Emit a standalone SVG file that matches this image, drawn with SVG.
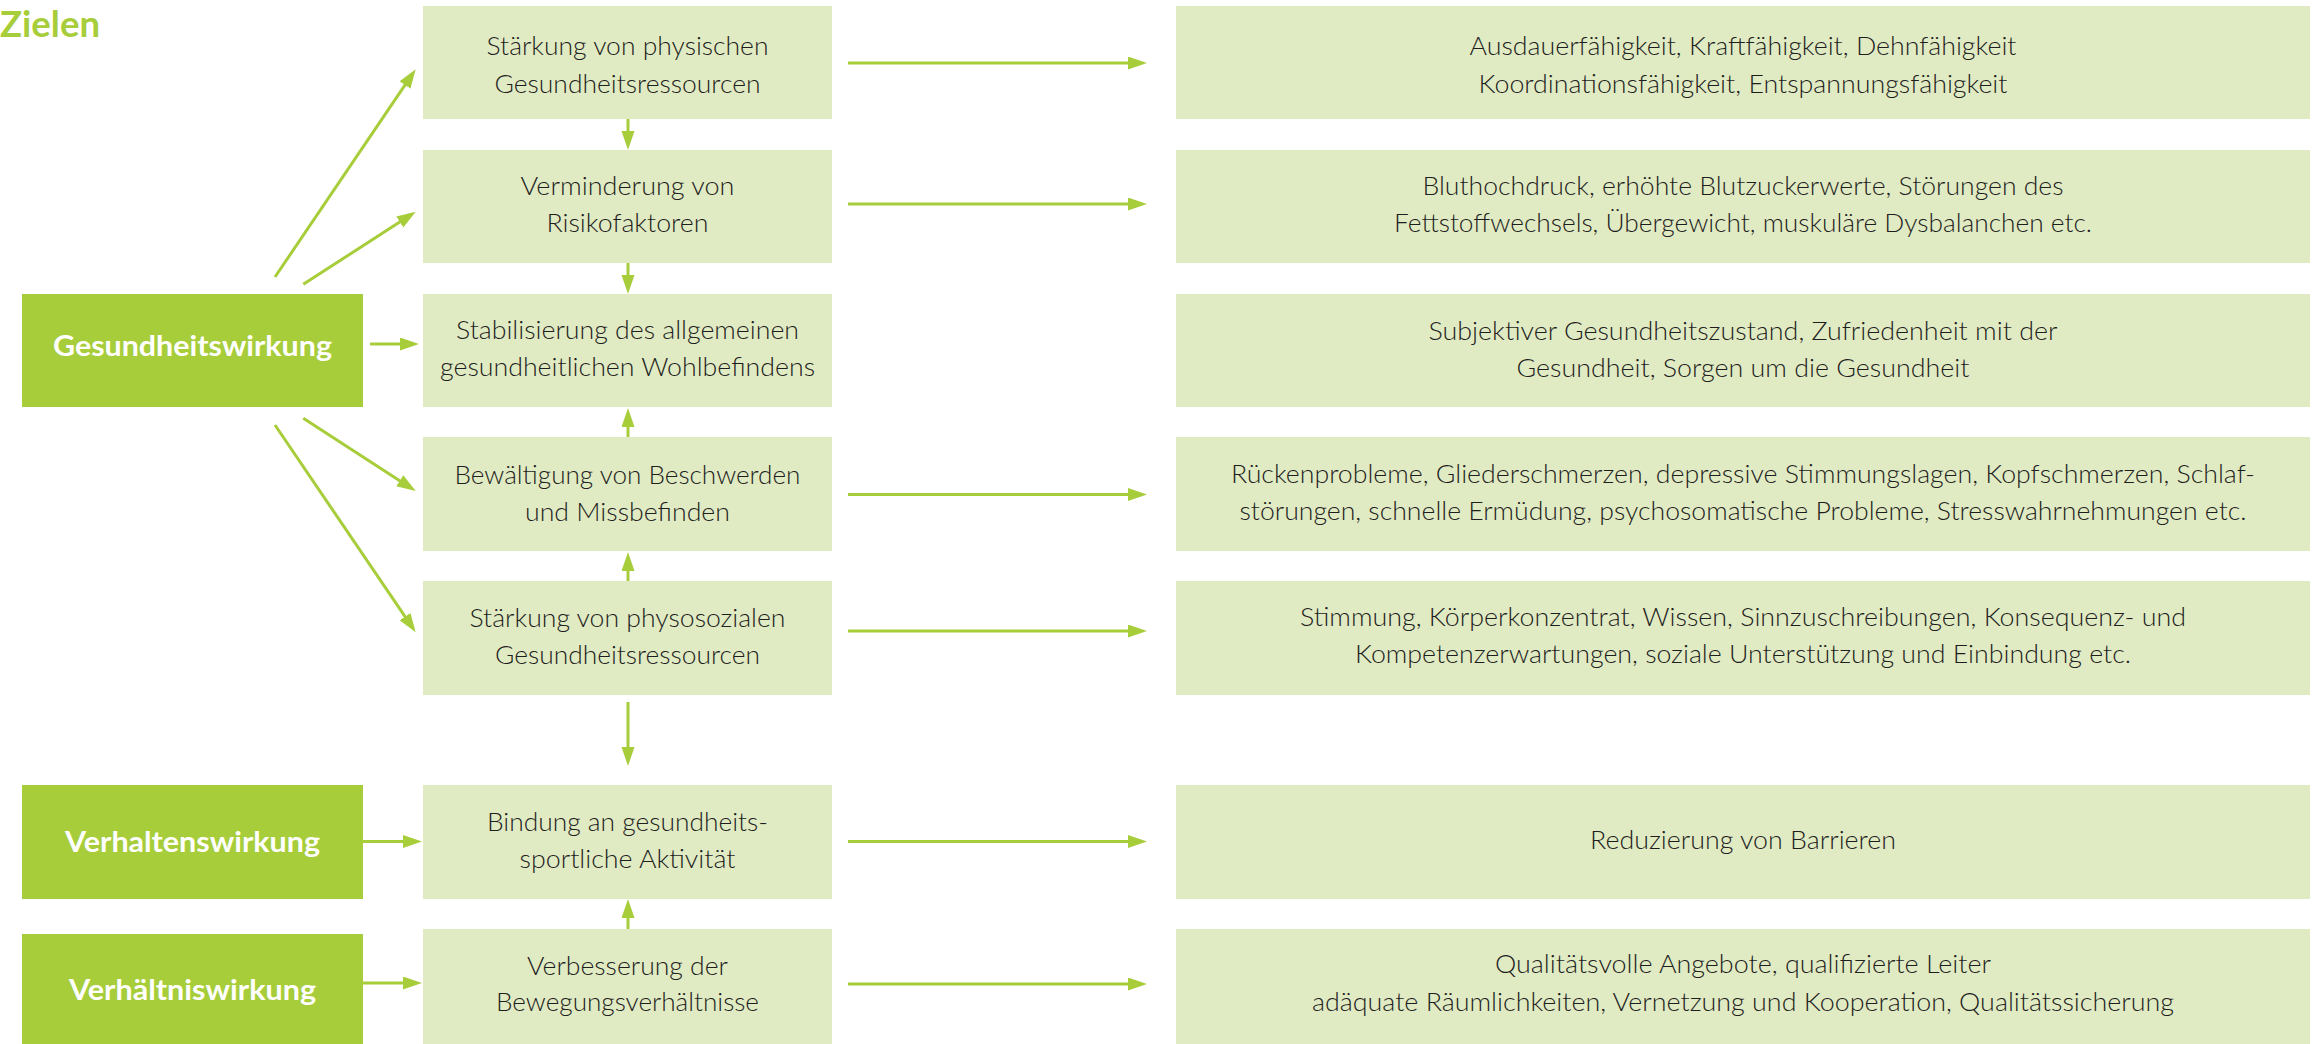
<svg xmlns="http://www.w3.org/2000/svg" width="2323" height="1044" viewBox="0 0 2323 1044">
<style>
.dark{fill:#a7cd3a}
.light{fill:#e1ebc3}
.t{font-family:Lato,"Liberation Sans",sans-serif;font-size:26px;font-weight:300;fill:#1e1e1e;text-anchor:middle}
.w{font-family:Lato,"Liberation Sans",sans-serif;font-size:29px;font-weight:700;fill:#fff;text-anchor:middle}
.title{font-family:Lato,"Liberation Sans",sans-serif;font-size:36px;font-weight:700;fill:#a7cd3a}
.c line{stroke:#a7cd3a;stroke-width:3;fill:none;marker-end:url(#ah)}
</style>
<defs>
<marker id="ah" markerUnits="userSpaceOnUse" markerWidth="20" markerHeight="14" refX="11" refY="6.5" orient="auto">
<path d="M0,0 L19,6.5 L0,13 z" fill="#a7cd3a"/>
</marker>
</defs>
<rect width="2323" height="1044" fill="#fff"/>
<text class="title" x="0" y="37" textLength="100" lengthAdjust="spacingAndGlyphs">Zielen</text>

<g id="connectors" class="c">
<line x1="275" y1="277" x2="411.2" y2="75.9"/>
<line x1="303.3" y1="284.3" x2="409" y2="216"/>
<line x1="303.3" y1="418.3" x2="409" y2="486.7"/>
<line x1="275" y1="425" x2="411.2" y2="625.7"/>
<line x1="370" y1="344" x2="411" y2="344"/>
<line x1="363" y1="841.5" x2="414" y2="841.5"/>
<line x1="363" y1="983" x2="414" y2="983"/>
<line x1="628" y1="119" x2="628" y2="142"/>
<line x1="628" y1="263" x2="628" y2="286"/>
<line x1="628" y1="437" x2="628" y2="416"/>
<line x1="628" y1="581" x2="628" y2="560"/>
<line x1="628" y1="702" x2="628" y2="758"/>
<line x1="628" y1="929" x2="628" y2="907"/>
<line x1="848" y1="63" x2="1139" y2="63"/>
<line x1="848" y1="204" x2="1139" y2="204"/>
<line x1="848" y1="494.5" x2="1139" y2="494.5"/>
<line x1="848" y1="631" x2="1139" y2="631"/>
<line x1="848" y1="841.5" x2="1139" y2="841.5"/>
<line x1="848" y1="984" x2="1139" y2="984"/>
</g>

<g id="gesundheitswirkung">
<rect class="dark" x="22" y="294" width="341" height="113"/>
<text class="w" x="192.5" y="356" textLength="279" lengthAdjust="spacingAndGlyphs">Gesundheitswirkung</text>
</g>
<g id="verhaltenswirkung">
<rect class="dark" x="22" y="785" width="341" height="114"/>
<text class="w" x="192.5" y="852" textLength="255" lengthAdjust="spacingAndGlyphs">Verhaltenswirkung</text>
</g>
<g id="verhaeltniswirkung">
<rect class="dark" x="22" y="934" width="341" height="110"/>
<text class="w" x="192.5" y="1000" textLength="247" lengthAdjust="spacingAndGlyphs">Verhältniswirkung</text>
</g>

<g id="m1">
<rect class="light" x="423" y="6" width="409" height="113"/>
<text class="t" x="627.5" y="55" textLength="282" lengthAdjust="spacingAndGlyphs">Stärkung von physischen</text>
<text class="t" x="627.5" y="93" textLength="266" lengthAdjust="spacingAndGlyphs">Gesundheitsressourcen</text>
</g>
<g id="m2">
<rect class="light" x="423" y="150" width="409" height="113"/>
<text class="t" x="627.5" y="195" textLength="214" lengthAdjust="spacingAndGlyphs">Verminderung von</text>
<text class="t" x="627.5" y="232" textLength="162" lengthAdjust="spacingAndGlyphs">Risikofaktoren</text>
</g>
<g id="m3">
<rect class="light" x="423" y="294" width="409" height="113"/>
<text class="t" x="627.5" y="339" textLength="343" lengthAdjust="spacingAndGlyphs">Stabilisierung des allgemeinen</text>
<text class="t" x="627.5" y="376" textLength="375" lengthAdjust="spacingAndGlyphs">gesundheitlichen Wohlbefindens</text>
</g>
<g id="m4">
<rect class="light" x="423" y="437" width="409" height="114"/>
<text class="t" x="627.5" y="484" textLength="346" lengthAdjust="spacingAndGlyphs">Bewältigung von Beschwerden</text>
<text class="t" x="627.5" y="521" textLength="205" lengthAdjust="spacingAndGlyphs">und Missbefinden</text>
</g>
<g id="m5">
<rect class="light" x="423" y="581" width="409" height="114"/>
<text class="t" x="627.5" y="627" textLength="316" lengthAdjust="spacingAndGlyphs">Stärkung von physosozialen</text>
<text class="t" x="627.5" y="664" textLength="265" lengthAdjust="spacingAndGlyphs">Gesundheitsressourcen</text>
</g>
<g id="m6">
<rect class="light" x="423" y="785" width="409" height="114"/>
<text class="t" x="627.5" y="831" textLength="281" lengthAdjust="spacingAndGlyphs">Bindung an gesundheits-</text>
<text class="t" x="627.5" y="868" textLength="216" lengthAdjust="spacingAndGlyphs">sportliche Aktivität</text>
</g>
<g id="m7">
<rect class="light" x="423" y="929" width="409" height="115"/>
<text class="t" x="627.5" y="975" textLength="201" lengthAdjust="spacingAndGlyphs">Verbesserung der</text>
<text class="t" x="627.5" y="1011" textLength="263" lengthAdjust="spacingAndGlyphs">Bewegungsverhältnisse</text>
</g>

<g id="r1">
<rect class="light" x="1176" y="6" width="1134" height="113"/>
<text class="t" x="1743" y="55" textLength="547" lengthAdjust="spacingAndGlyphs">Ausdauerfähigkeit, Kraftfähigkeit, Dehnfähigkeit</text>
<text class="t" x="1743" y="93" textLength="529" lengthAdjust="spacingAndGlyphs">Koordinationsfähigkeit, Entspannungsfähigkeit</text>
</g>
<g id="r2">
<rect class="light" x="1176" y="150" width="1134" height="113"/>
<text class="t" x="1743" y="195" textLength="641" lengthAdjust="spacingAndGlyphs">Bluthochdruck, erhöhte Blutzuckerwerte, Störungen des</text>
<text class="t" x="1743" y="232" textLength="698" lengthAdjust="spacingAndGlyphs">Fettstoffwechsels, Übergewicht, muskuläre Dysbalanchen etc.</text>
</g>
<g id="r3">
<rect class="light" x="1176" y="294" width="1134" height="113"/>
<text class="t" x="1743" y="340" textLength="629" lengthAdjust="spacingAndGlyphs">Subjektiver Gesundheitszustand, Zufriedenheit mit der</text>
<text class="t" x="1743" y="377" textLength="453" lengthAdjust="spacingAndGlyphs">Gesundheit, Sorgen um die Gesundheit</text>
</g>
<g id="r4">
<rect class="light" x="1176" y="437" width="1134" height="114"/>
<text class="t" x="1743" y="483" textLength="1024" lengthAdjust="spacingAndGlyphs">Rückenprobleme, Gliederschmerzen, depressive Stimmungslagen, Kopfschmerzen, Schlaf-</text>
<text class="t" x="1743" y="520" textLength="1007" lengthAdjust="spacingAndGlyphs">störungen, schnelle Ermüdung, psychosomatische Probleme, Stresswahrnehmungen etc.</text>
</g>
<g id="r5">
<rect class="light" x="1176" y="581" width="1134" height="114"/>
<text class="t" x="1743" y="626" textLength="886" lengthAdjust="spacingAndGlyphs">Stimmung, Körperkonzentrat, Wissen, Sinnzuschreibungen, Konsequenz- und</text>
<text class="t" x="1743" y="663" textLength="776" lengthAdjust="spacingAndGlyphs">Kompetenzerwartungen, soziale Unterstützung und Einbindung etc.</text>
</g>
<g id="r6">
<rect class="light" x="1176" y="785" width="1134" height="114"/>
<text class="t" x="1743" y="849" textLength="306" lengthAdjust="spacingAndGlyphs">Reduzierung von Barrieren</text>
</g>
<g id="r7">
<rect class="light" x="1176" y="929" width="1134" height="115"/>
<text class="t" x="1743" y="973" textLength="496" lengthAdjust="spacingAndGlyphs">Qualitätsvolle Angebote, qualifizierte Leiter</text>
<text class="t" x="1743" y="1011" textLength="862" lengthAdjust="spacingAndGlyphs">adäquate Räumlichkeiten, Vernetzung und Kooperation, Qualitätssicherung</text>
</g>
</svg>
